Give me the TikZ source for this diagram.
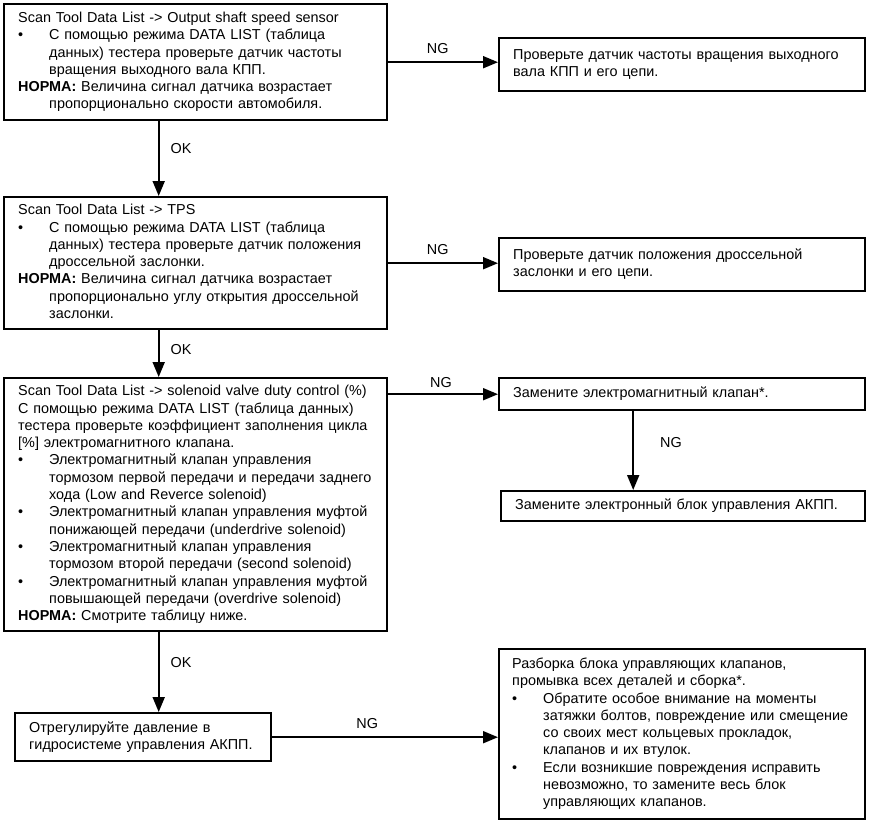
\documentclass[tikz,border=0pt]{standalone}
\usepackage{fontspec}
\setmainfont{Liberation Sans}
\usetikzlibrary{arrows.meta}
\newcommand\mainfs{\fontsize{14.4}{17.3}\selectfont}
\newcommand\blt{\makebox[31pt][l]{\textbullet}}
\newcommand\hind{\hspace*{31pt}}
\newcommand\ls[1]{\begin{tabular}{@{}l@{}}#1\end{tabular}}
\tikzset{
  box/.style={draw, line width=2.4pt, rectangle, anchor=north west,
    inner xsep=14pt, inner ysep=0pt, align=left, font=\mainfs},
  arr/.style={line width=1.9pt, -{Triangle[length=15pt,width=12pt]}},
  lbl/.style={font=\mainfs, inner sep=2pt},
}
\begin{document}
\begin{tikzpicture}[x=1pt,y=-1pt]
\useasboundingbox (0,0) rectangle (870,822);

\node[box, minimum width=383pt, minimum height=116pt, text width=355pt] (b1) at (3,3) {\ls{%
Scan Tool Data List -> Output shaft speed sensor\\
\blt С помощью режима DATA LIST (таблица\\
\hind данных) тестера проверьте датчик частоты\\
\hind вращения выходного вала КПП.\\
\textbf{НОРМА:} Величина сигнал датчика возрастает\\
\hind пропорционально скорости автомобиля.}};

\node[box, minimum width=366pt, minimum height=53pt, text width=338pt] (r1) at (498,37) {\ls{%
Проверьте датчик частоты вращения выходного\\
вала КПП и его цепи.}};

\node[box, minimum width=383pt, minimum height=132pt, text width=355pt] (b2) at (3,196) {\ls{%
Scan Tool Data List -> TPS\\
\blt С помощью режима DATA LIST (таблица\\
\hind данных) тестера проверьте датчик положения\\
\hind дроссельной заслонки.\\
\textbf{НОРМА:} Величина сигнал датчика возрастает\\
\hind пропорционально углу открытия дроссельной\\
\hind заслонки.}};

\node[box, minimum width=366pt, minimum height=53pt, text width=338pt] (r2) at (498,237) {\ls{%
Проверьте датчик положения дроссельной\\
заслонки и его цепи.}};

\node[box, minimum width=383pt, minimum height=253pt, text width=355pt] (b3) at (3,377) {\ls{%
Scan Tool Data List -> solenoid valve duty control (\%)\\
С помощью режима DATA LIST (таблица данных)\\
тестера проверьте коэффициент заполнения цикла\\
{[}\%] электромагнитного клапана.\\
\blt Электромагнитный клапан управления\\
\hind тормозом первой передачи и передачи заднего\\
\hind хода (Low and Reverce solenoid)\\
\blt Электромагнитный клапан управления муфтой\\
\hind понижающей передачи (underdrive solenoid)\\
\blt Электромагнитный клапан управления\\
\hind тормозом второй передачи (second solenoid)\\
\blt Электромагнитный клапан управления муфтой\\
\hind повышающей передачи (overdrive solenoid)\\
\textbf{НОРМА:} Смотрите таблицу ниже.}};

\node[box, minimum width=366pt, minimum height=32pt, text width=338pt] (r3) at (498,377) {\ls{%
Замените электромагнитный клапан*.}};

\node[box, minimum width=364pt, minimum height=30pt, text width=336pt] (r4) at (500,490) {\ls{%
Замените электронный блок управления АКПП.}};

\node[box, minimum width=256pt, minimum height=48pt, text width=228pt] (b5) at (14,712) {\ls{%
Отрегулируйте давление в\\
гидросистеме управления АКПП.}};

\node[box, minimum width=366pt, minimum height=170pt, text width=340pt, inner xsep=13pt] (r5) at (498,648) {\ls{%
Разборка блока управляющих клапанов,\\
промывка всех деталей и сборка*.\\
\blt Обратите особое внимание на моменты\\
\hind затяжки болтов, повреждение или смещение\\
\hind со своих мест кольцевых прокладок,\\
\hind клапанов и их втулок.\\
\blt Если возникшие повреждения исправить\\
\hind невозможно, то замените весь блок\\
\hind управляющих клапанов.}};

% connectors
\draw[arr] (b1.east) -- node[lbl, above=6pt, pos=0.45] {NG} (b1.east -| r1.west);
\draw[arr] (b2.east) -- node[lbl, above=6pt, pos=0.45] {NG} (b2.east -| r2.west);
\draw[arr] (b3.east |- r3.west) -- node[lbl, above=4pt, pos=0.48] {NG} (r3.west);
\draw[arr] (b5.east) -- node[lbl, above=6pt, pos=0.42] {NG} (b5.east -| r5.west);

\draw[arr] ([xshift=-37pt]b1.south) -- node[lbl, right=9pt, pos=0.37] {OK} ([xshift=-37pt]b1.south |- b2.north);
\draw[arr] ([xshift=-37pt]b2.south) -- node[lbl, right=9pt, pos=0.4] {OK} ([xshift=-37pt]b2.south |- b3.north);
\draw[arr] ([xshift=-37pt]b3.south) -- node[lbl, right=9pt, pos=0.375] {OK} ([xshift=-37pt]b3.south |- b5.north);
\draw[arr] ([xshift=-49pt]r3.south) -- node[lbl, right=24pt, pos=0.4] {NG} ([xshift=-49pt]r3.south |- r4.north);
\end{tikzpicture}
\end{document}
